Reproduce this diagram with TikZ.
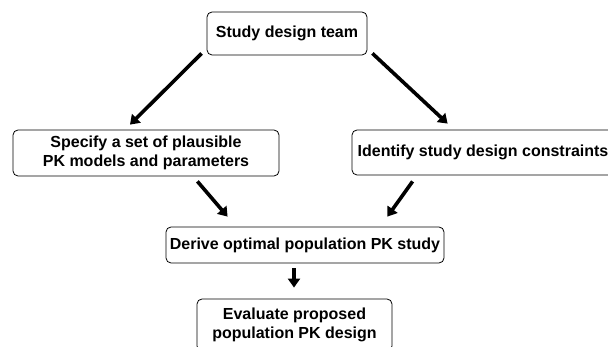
\documentclass[tikz,border=0pt]{standalone}
\usepackage{fontspec}
\setmainfont{Liberation Sans}
\usetikzlibrary{shapes,arrows.meta,positioning}

\begin{document}
\begin{tikzpicture}[
    x=1pt, y=-1pt,
    box/.style={draw, rounded corners=5pt, line width=0.8pt, inner sep=1pt, align=center,
        font=\fontsize{16}{18.5}\selectfont\bfseries},
    arrow/.style={line width=3.6pt, -{Triangle[length=9pt, width=12pt]}}
]
\useasboundingbox (0,0) rectangle (608,347);

\node (team) [box, minimum width=160pt, minimum height=43pt] at (287,33.5) {Study design team};
\node (spec) [box, minimum width=266pt, minimum height=46pt] at (146,153) {Specify a set of plausible\\PK models and parameters};
\node (ident) [box, minimum width=262pt, minimum height=45pt] at (483,152.5) {Identify study design constraints};
\node (derive) [box, minimum width=278pt, minimum height=36pt] at (305,245) {Derive optimal population PK study};
\node (eval) [box, minimum width=195pt, minimum height=52pt] at (294.5,325) {Evaluate proposed\\population PK design};

\draw [arrow] ([shift={(-5,-2)}]team.south west) -- ([shift={(-16,-5)}]spec.north);
\draw [arrow] ([shift={(5,-2)}]team.south east) -- ([shift={(96,-6)}]ident.north west);
\draw [arrow] ([shift={(-82,5)}]spec.south east) -- ([shift={(62,-10)}]derive.north west);
\draw [arrow] ([shift={(61,6)}]ident.south west) -- ([shift={(-57,-10)}]derive.north east);
\draw [arrow] ([shift={(-11,5)}]derive.south) -- ([shift={(-0.5,-11)}]eval.north);

\end{tikzpicture}
\end{document}
